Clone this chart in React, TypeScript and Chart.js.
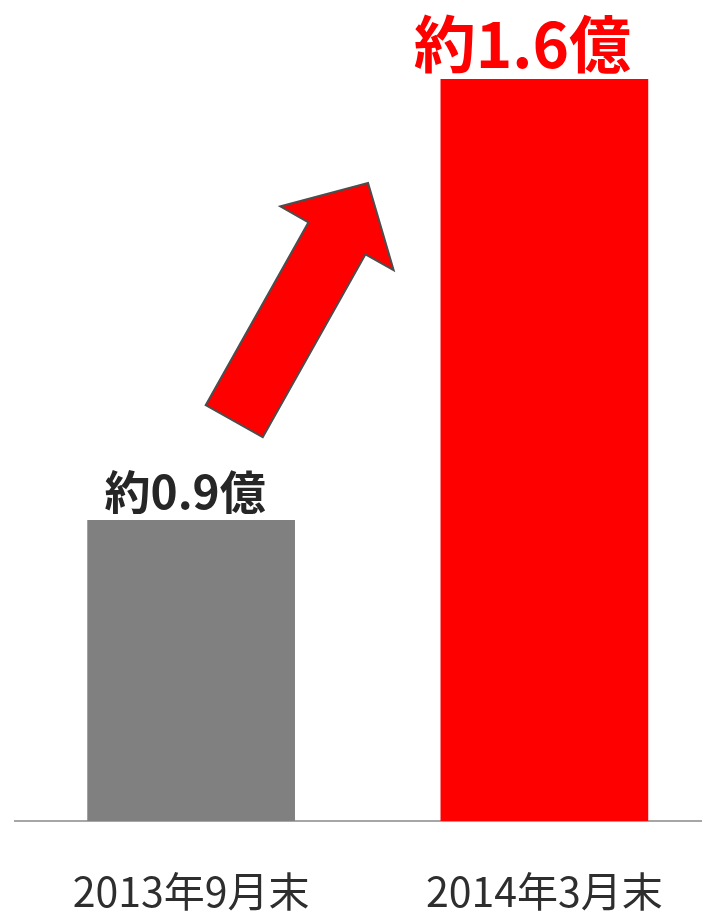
import React, { useEffect, useRef } from "react";
import { Chart, registerables } from "chart.js";

Chart.register(...registerables);

const categories = ["2013年9月末", "2014年3月末"];
const values = [0.9, 1.6];
const valueLabels = ["約0.9億", "約1.6億"];
const barColors = ["#808080", "#ff0000"];
const labelColors = ["#262626", "#ff0000"];
const labelFontSizes = [46, 62];
const labelOffsetsX = [-6, -22];
const yMin = 0.4222;
const yMax = 1.7254;

const FONT = '"Noto Sans CJK JP", "Noto Sans", sans-serif';

const valueLabelPlugin = {
  id: "valueLabels",
  afterDatasetsDraw(chart: any) {
    const ctx = chart.ctx;
    const meta = chart.getDatasetMeta(0);
    meta.data.forEach((bar: any, i: number) => {
      ctx.save();
      ctx.font = `bold ${labelFontSizes[i]}px ${FONT}`;
      ctx.fillStyle = labelColors[i];
      ctx.textAlign = "center";
      ctx.textBaseline = "alphabetic";
      ctx.fillText(valueLabels[i], bar.x + labelOffsetsX[i], bar.y - 11);
      ctx.restore();
    });
  },
};

const arrowPlugin = {
  id: "growthArrow",
  afterDraw(chart: any) {
    const { ctx, chartArea } = chart;
    const w = chartArea.right - chartArea.left;
    const h = chartArea.bottom - chartArea.top;
    const tail = { x: chartArea.left + 0.311 * w, y: chartArea.top + 0.513 * h };
    const tip = { x: chartArea.left + 0.5004 * w, y: chartArea.top + 0.2229 * h };
    const shaftHalf = 32.7;
    const headHalf = 65;
    const headLen = 63.4;
    const dx = tip.x - tail.x;
    const dy = tip.y - tail.y;
    const len = Math.sqrt(dx * dx + dy * dy);
    const ux = dx / len;
    const uy = dy / len;
    const nx = -uy;
    const ny = ux;
    const neck = { x: tip.x - ux * headLen, y: tip.y - uy * headLen };
    const pts = [
      [tail.x + nx * shaftHalf, tail.y + ny * shaftHalf],
      [neck.x + nx * shaftHalf, neck.y + ny * shaftHalf],
      [neck.x + nx * headHalf, neck.y + ny * headHalf],
      [tip.x, tip.y],
      [neck.x - nx * headHalf, neck.y - ny * headHalf],
      [neck.x - nx * shaftHalf, neck.y - ny * shaftHalf],
      [tail.x - nx * shaftHalf, tail.y - ny * shaftHalf],
    ];
    ctx.save();
    ctx.beginPath();
    pts.forEach((p, i) => (i === 0 ? ctx.moveTo(p[0], p[1]) : ctx.lineTo(p[0], p[1])));
    ctx.closePath();
    ctx.fillStyle = "#ff0000";
    ctx.fill();
    ctx.lineWidth = 2;
    ctx.strokeStyle = "#4d4d4d";
    ctx.lineJoin = "miter";
    ctx.stroke();
    ctx.restore();
  },
};

export default function App() {
  const ref = useRef<HTMLCanvasElement | null>(null);

  useEffect(() => {
    if (!ref.current) return;
    const chart = new Chart(ref.current, {
      type: "bar",
      data: {
        labels: categories,
        datasets: [
          {
            data: values,
            backgroundColor: barColors,
            borderWidth: 0,
            categoryPercentage: 1,
            barPercentage: 0.588,
          },
        ],
      },
      options: {
        responsive: false,
        animation: false,
        devicePixelRatio: 1,
        layout: { padding: { left: 14.5, right: 0, top: 0, bottom: 0 } },
        plugins: {
          legend: { display: false },
          tooltip: { enabled: false },
          title: { display: false },
        },
        scales: {
          x: {
            type: "category",
            offset: true,
            grid: { display: false, drawTicks: false },
            border: { display: true, color: "#a6a6a6", width: 2 },
            ticks: {
              color: "#2e2e2e",
              font: { family: FONT, size: 41, weight: "normal" },
              padding: 46,
              maxRotation: 0,
              autoSkip: false,
            },
            afterFit: (scale: any) => {
              scale.height = 92;
            },
          },
          y: {
            display: false,
            min: yMin,
            max: yMax,
          },
        },
      },
      plugins: [valueLabelPlugin, arrowPlugin],
    });
    return () => chart.destroy();
  }, []);

  return (
    <div
      style={{
        position: "fixed",
        left: 0,
        top: 0,
        width: 702,
        height: 913,
        overflow: "hidden",
        background: "#ffffff",
      }}
    >
      <canvas ref={ref} width={721} height={913} style={{ width: 721, height: 913 }} />
    </div>
  );
}
